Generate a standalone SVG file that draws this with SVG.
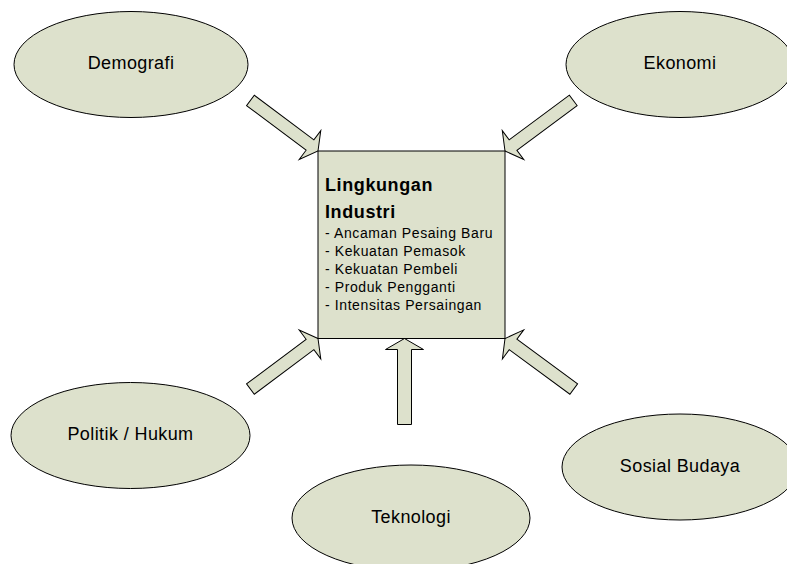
<svg xmlns="http://www.w3.org/2000/svg" width="787" height="564" viewBox="0 0 787 564">
<style>
.shape{fill:#dde1cc;stroke:#000;stroke-width:1}
.lbl{font-family:"Liberation Sans",Arial,sans-serif;font-size:18px;letter-spacing:0.4px;fill:#000;text-anchor:middle}
.ttl{font-family:"Liberation Sans",Arial,sans-serif;font-size:18px;font-weight:bold;letter-spacing:0.6px;fill:#000}
.itm{font-family:"Liberation Sans",Arial,sans-serif;font-size:14px;letter-spacing:0.6px;fill:#000}
</style>
<rect width="787" height="564" fill="#fff"/>
<g id="connectors">
<polygon class="shape" transform="translate(318,151) rotate(36.8)" points="0,0 -10,-18 -10,-6.5 -84.4,-6.5 -84.4,6.5 -10,6.5 -10,18"/>
<polygon class="shape" transform="translate(505,151) rotate(143.4)" points="0,0 -10,-18 -10,-6.5 -85,-6.5 -85,6.5 -10,6.5 -10,18"/>
<polygon class="shape" transform="translate(318,338.5) rotate(-36.8)" points="0,0 -10,-18 -10,-6.5 -84.4,-6.5 -84.4,6.5 -10,6.5 -10,18"/>
<polygon class="shape" transform="translate(505,338.5) rotate(216.3)" points="0,0 -10,-18 -10,-6.5 -85.3,-6.5 -85.3,6.5 -10,6.5 -10,18"/>
<polygon class="shape" transform="translate(404.5,338.5) rotate(-90)" points="0,0 -11,-19 -11,-7 -86,-7 -86,7 -11,7 -11,19"/>
</g>
<g id="industri">
<rect class="shape" x="318" y="151" width="187" height="187.5"/>
<text class="ttl" x="325" y="191">Lingkungan</text>
<text class="ttl" x="325" y="218">Industri</text>
<text class="itm" x="325" y="238">- Ancaman Pesaing Baru</text>
<text class="itm" x="325" y="256">- Kekuatan Pemasok</text>
<text class="itm" x="325" y="274">- Kekuatan Pembeli</text>
<text class="itm" x="325" y="292">- Produk Pengganti</text>
<text class="itm" x="325" y="310">- Intensitas Persaingan</text>
</g>
<g id="demografi">
<ellipse class="shape" cx="131" cy="64.5" rx="117" ry="53"/>
<text class="lbl" x="131" y="69">Demografi</text>
</g>
<g id="ekonomi">
<ellipse class="shape" cx="680" cy="64.5" rx="114" ry="53"/>
<text class="lbl" x="680" y="69">Ekonomi</text>
</g>
<g id="politik">
<ellipse class="shape" cx="130.5" cy="435.5" rx="119.5" ry="53"/>
<text class="lbl" x="130.5" y="440">Politik / Hukum</text>
</g>
<g id="teknologi">
<ellipse class="shape" cx="411" cy="518" rx="119" ry="53"/>
<text class="lbl" x="411" y="523">Teknologi</text>
</g>
<g id="sosial">
<ellipse class="shape" cx="680" cy="467" rx="118" ry="53"/>
<text class="lbl" x="680" y="472">Sosial Budaya</text>
</g>
</svg>
